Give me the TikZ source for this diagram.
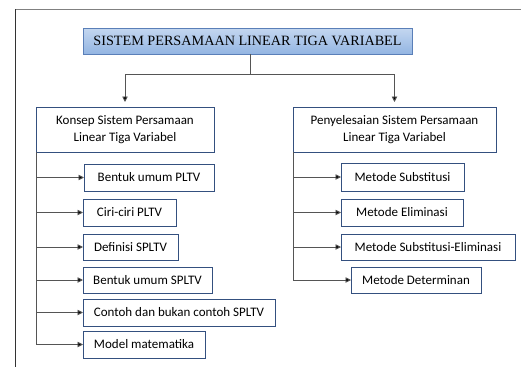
\documentclass[tikz,border=0pt]{standalone}
\usepackage{fontspec}
\setmainfont{Liberation Serif}
\newfontfamily\calibrifont{Carlito}
\usetikzlibrary{arrows.meta}
\definecolor{boxline}{HTML}{34507F}
\definecolor{titleline}{HTML}{5A7FB8}
\definecolor{titletop}{HTML}{C4D7F0}
\definecolor{titlebot}{HTML}{93B5E2}
\definecolor{conn}{HTML}{555555}
\tikzset{
  title/.style={draw=titleline, line width=0.9pt, top color=titletop, bottom color=titlebot,
    inner sep=0pt, outer sep=0pt, anchor=north west,
    font=\fontsize{14.2}{16}\selectfont, text=black},
  mainbox/.style={draw=boxline, line width=0.9pt, fill=white, inner sep=0pt, outer sep=0pt,
    anchor=north west, align=center, font=\calibrifont\fontsize{13}{17}\selectfont},
  subbox/.style={draw=boxline, line width=0.9pt, fill=white, inner sep=0pt, outer sep=0pt,
    anchor=north west, font=\calibrifont\fontsize{13}{15}\selectfont},
  conline/.style={draw=conn, line width=0.9pt},
  arr/.style={conline, -{Triangle[length=5.5pt,width=5.5pt,fill=black]}},
}
\begin{document}
\begin{tikzpicture}[x=1pt,y=-1pt]
\useasboundingbox (0,0) rectangle (521,367);
% outer frame
\draw[draw=gray, line width=1.6pt] (15,9.5) -- (521,9.5);
\draw[draw=black!80, line width=0.9pt] (15,9) -- (15,367);

\node[title, minimum width=329pt, minimum height=26pt] (t) at (83,28) {SISTEM PERSAMAAN LINEAR TIGA VARIABEL};

\node[mainbox, minimum width=178pt, minimum height=45pt] (L) at (36,107) {Konsep Sistem Persamaan\\Linear Tiga Variabel};
\node[mainbox, minimum width=203pt, minimum height=45pt] (R) at (293,107) {Penyelesaian Sistem Persamaan\\Linear Tiga Variabel};

\coordinate (tb) at (250,54);
\coordinate (j) at (250,74);
\draw[conline] (tb) -- (j);
\draw[arr, shorten >=5pt] (j) -| (L.north);
\draw[arr, shorten >=5pt] (j) -| (R.north);

% left subs
\node[subbox, minimum width=130pt, minimum height=27pt] (l1) at (84,164) {Bentuk umum PLTV};
\node[subbox, minimum width=93pt, minimum height=27pt] (l2) at (83,199) {Ciri-ciri PLTV};
\node[subbox, minimum width=95pt, minimum height=26pt] (l3) at (83,234) {Definisi SPLTV};
\node[subbox, minimum width=129pt, minimum height=26pt] (l4) at (83,267) {Bentuk umum SPLTV};
\node[subbox, minimum width=192pt, minimum height=27pt] (l5) at (83,299) {Contoh dan bukan contoh SPLTV};
\node[subbox, minimum width=122pt, minimum height=27pt] (l6) at (83,331) {Model matematika};

\draw[conline] (L.south west) -- (L.south west |- l6.west);
\foreach \n in {l1,l2,l3,l4,l5,l6}{
  \draw[arr] (L.south west |- \n.west) -- (\n.west);
}

% right subs
\node[subbox, minimum width=123pt, minimum height=28pt] (r1) at (341,163) {Metode Substitusi};
\node[subbox, minimum width=122pt, minimum height=27pt] (r2) at (341,199) {Metode Eliminasi};
\node[subbox, minimum width=174pt, minimum height=26pt] (r3) at (341,234) {Metode Substitusi-Eliminasi};
\node[subbox, minimum width=130pt, minimum height=26pt] (r4) at (351,267) {Metode Determinan};

\draw[conline] (R.south west) -- (R.south west |- r4.west);
\foreach \n in {r1,r2,r3,r4}{
  \draw[arr] (R.south west |- \n.west) -- (\n.west);
}
\end{tikzpicture}
\end{document}
